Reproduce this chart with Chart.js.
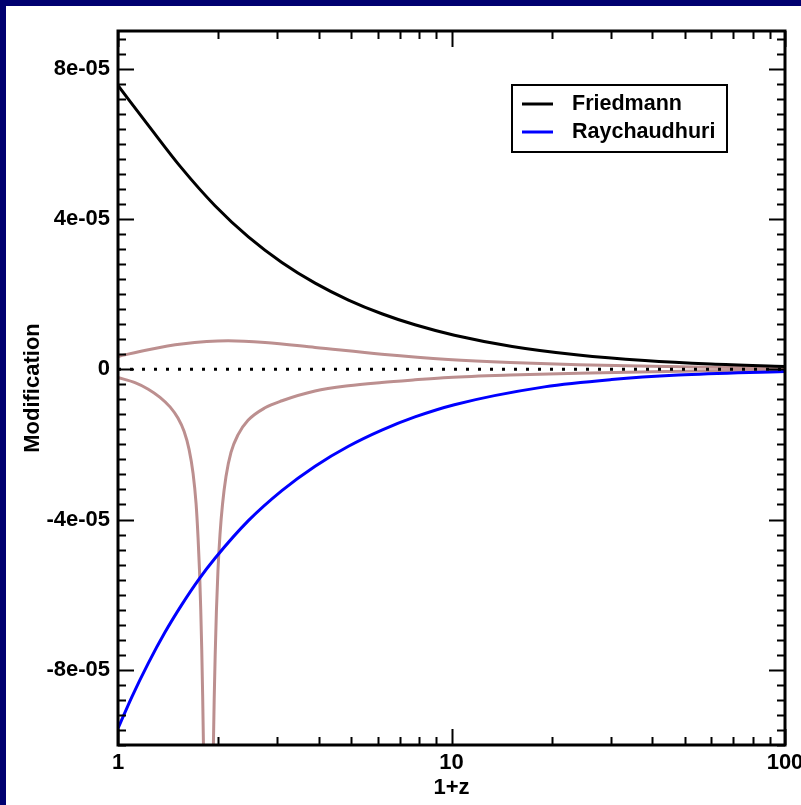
<!DOCTYPE html>
<html>
<head>
<meta charset="utf-8">
<title>Modification vs 1+z</title>
<script src="https://cdn.jsdelivr.net/npm/chart.js@4.4.1/dist/chart.umd.min.js"></script>
<style>
    html, body { margin: 0; padding: 0; background: #000070; overflow: hidden; }
    #wrap { position: absolute; left: 6px; top: 6px; width: 795px; height: 799px; background: #fff; }
</style>
</head>
<body>
<div id="wrap"><canvas id="chart"></canvas></div>
<script>
// values in units of 1e-5 at the given 1+z
const friedmannX = [1, 1.233, 1.552, 1.954, 2.46, 3.10, 3.9, 4.91, 6.18, 7.77, 10.2, 15.2, 24, 38, 60, 100];
const friedmann = [7.55, 6.49, 5.35, 4.35, 3.52, 2.84, 2.29, 1.84, 1.476, 1.182, 0.905, 0.607, 0.379, 0.231, 0.138, 0.075];

const raychX = [1, 1.099, 1.233, 1.383, 1.552, 1.741, 1.954, 2.46, 3.10, 3.9, 4.91, 6.18, 7.77, 10.2, 19, 30.2, 47.9, 100];
const raychaudhuri = [-9.56, -8.73, -7.82, -7.0, -6.27, -5.61, -5.03, -4.03, -3.23, -2.58, -2.05, -1.62, -1.27, -0.944, -0.47, -0.275, -0.157, -0.06];

const modUpperX = [1, 1.233, 1.552, 2.14, 2.76, 3.9, 6.18, 9.77, 15, 24, 40, 60, 100];
const modUpper = [0.34, 0.52, 0.67, 0.755, 0.71, 0.58, 0.40, 0.26, 0.177, 0.12, 0.077, 0.052, 0.03];

// the lower brown curve has a pole near 1+z ~ 1.86
const modLowerX = [1, 1.1244, 1.2325, 1.3365, 1.4322, 1.5126, 1.578, 1.6334, 1.6791, 1.7142, 1.738, 1.7561, 1.7706, 1.7829, 1.794, 1.8039, 1.8139,
    1.86,
    1.9213, 1.932, 1.9427, 1.9562, 1.9725, 1.9944, 2.0222, 2.0574, 2.1077, 2.1817, 2.2893, 2.454, 2.7595, 3.1025, 3.8968, 4.904, 6.1774, 7.7732, 9.7814, 15, 24, 40, 60, 100];
const modLower = [-0.221, -0.357, -0.531, -0.749, -1.003, -1.301, -1.653, -2.133, -2.773, -3.573, -4.48, -5.387, -6.4, -7.467, -8.667, -10.0, -11.47,
    null,
    -11.47, -10.0, -8.8, -7.6, -6.453, -5.333, -4.4, -3.6, -2.853, -2.213, -1.747, -1.36, -1.027, -0.84, -0.581, -0.44, -0.352, -0.283, -0.221, -0.157, -0.11, -0.068, -0.043, -0.022];

const xLabels = [1, 10, 100];
const yMajor = [-8e-5, -4e-5, 0, 4e-5, 8e-5];
const yLabels = ['-8e-05', '-4e-05', '0', '4e-05', '8e-05'];
const legendLabels = ['Friedmann', 'Raychaudhuri'];

const toPoints = (xs, ys) => xs.map((x, i) => ({ x: x, y: ys[i] === null ? null : ys[i] * 1e-5 }));

const FONT = "'Liberation Sans', Arial, sans-serif";

// minor ticks for log axis: 1..9, 10..90, 100
const xTickVals = [];
for (let d = 1; d <= 10; d *= 10) {
    for (let m = 1; m < 10; m++) xTickVals.push(m * d);
}
xTickVals.push(100);

// y ticks every 4e-6
const yTickVals = [];
for (let k = -25; k <= 22; k++) yTickVals.push(k * 4e-6);

const isMajorX = v => xLabels.some(l => Math.abs(l - v) < 1e-9);
const isMajorY = v => yMajor.some(l => Math.abs(l - v) < 1e-12);

const framePlugin = {
    id: 'frame',
    afterDatasetsDraw(chart) {
        const { ctx, chartArea: a, scales } = chart;
        ctx.save();
        ctx.strokeStyle = '#000';
        ctx.lineWidth = 2;
        xTickVals.forEach(v => {
            const px = Math.round(scales.x.getPixelForValue(v)) + 0.5;
            const len = isMajorX(v) ? 16 : 8;
            ctx.beginPath();
            ctx.moveTo(px, a.bottom); ctx.lineTo(px, a.bottom - len);
            ctx.moveTo(px, a.top); ctx.lineTo(px, a.top + len);
            ctx.stroke();
        });
        yTickVals.forEach(v => {
            const py = Math.round(scales.y.getPixelForValue(v)) + 0.5;
            const len = isMajorY(v) ? 16 : 8;
            ctx.beginPath();
            ctx.moveTo(a.left, py); ctx.lineTo(a.left + len, py);
            ctx.moveTo(a.right, py); ctx.lineTo(a.right - len, py);
            ctx.stroke();
        });
        ctx.lineWidth = 3;
        ctx.strokeRect(a.left, a.top, a.right - a.left, a.bottom - a.top);

        // legend box
        const bx = a.right - 273, by = a.top + 54, bw = 215, bh = 67;
        ctx.lineWidth = 2;
        ctx.fillStyle = '#fff';
        ctx.fillRect(bx, by, bw, bh);
        ctx.strokeRect(bx, by, bw, bh);
        ctx.font = 'bold 21.5px ' + FONT;
        ctx.textBaseline = 'middle';
        ctx.textAlign = 'left';
        legendLabels.forEach((lab, i) => {
            const ds = chart.data.datasets.find(d => d.label === lab);
            const ly = by + 19 + i * 28;
            ctx.strokeStyle = ds.borderColor;
            ctx.lineWidth = 3;
            ctx.beginPath();
            ctx.moveTo(bx + 10, ly); ctx.lineTo(bx + 41, ly);
            ctx.stroke();
            ctx.fillStyle = '#000';
            ctx.fillText(lab, bx + 60, ly);
        });
        ctx.restore();
    }
};

const lineStyle = (color) => ({
    borderColor: color,
    borderWidth: 3,
    pointRadius: 0,
    fill: false,
    cubicInterpolationMode: 'monotone'
});

new Chart(document.getElementById('chart'), {
    type: 'line',
    data: {
        datasets: [
            {
                label: 'zero',
                data: toPoints([1, 100], [0, 0]),
                borderColor: '#000',
                borderWidth: 3,
                borderDash: [3, 9],
                borderCapStyle: 'butt',
                pointRadius: 0
            },
            Object.assign({ label: 'Friedmann', data: toPoints(friedmannX, friedmann) }, lineStyle('#000000')),
            Object.assign({ label: 'Raychaudhuri', data: toPoints(raychX, raychaudhuri) }, lineStyle('#0000ff')),
            Object.assign({ label: 'mod upper', data: toPoints(modUpperX, modUpper) }, lineStyle('#bc8f8f')),
            Object.assign({ label: 'mod lower', data: toPoints(modLowerX, modLower), spanGaps: false }, lineStyle('#bc8f8f'))
        ]
    },
    options: {
        responsive: true,
        maintainAspectRatio: false,
        animation: false,
        parsing: false,
        layout: { padding: { top: 25, right: 16, left: 0, bottom: 0 } },
        plugins: {
            legend: { display: false },
            tooltip: { enabled: false }
        },
        scales: {
            x: {
                type: 'logarithmic',
                min: 1,
                max: 100,
                grid: { display: false, drawTicks: false },
                border: { display: false },
                afterBuildTicks: s => { s.ticks = xTickVals.map(v => ({ value: v })); },
                afterFit: s => { s.height = 60; s.paddingLeft = 0; s.paddingRight = 0; },
                ticks: {
                    autoSkip: false,
                    maxRotation: 0,
                    padding: 5,
                    color: '#000',
                    font: { family: FONT, size: 22, weight: 'bold' },
                    callback: v => isMajorX(v) ? String(v) : ''
                },
                title: {
                    display: true,
                    text: '1+z',
                    color: '#000',
                    font: { family: FONT, size: 22, weight: 'bold' },
                    padding: { top: 0, bottom: 4 }
                }
            },
            y: {
                type: 'linear',
                min: -1e-4,
                max: 9e-5,
                grid: { display: false, drawTicks: false },
                border: { display: false },
                afterBuildTicks: s => { s.ticks = yTickVals.map(v => ({ value: v })); },
                afterFit: s => { s.width = 112; s.paddingTop = 0; s.paddingBottom = 0; },
                ticks: {
                    autoSkip: false,
                    padding: 8,
                    color: '#000',
                    font: { family: FONT, size: 22, weight: 'bold' },
                    callback: v => {
                        const i = yMajor.findIndex(m => Math.abs(m - v) < 1e-12);
                        return i >= 0 ? yLabels[i] : '';
                    }
                },
                title: {
                    display: true,
                    text: 'Modification',
                    color: '#000',
                    font: { family: FONT, size: 22, weight: 'bold' },
                    padding: { top: 14, bottom: 0 }
                }
            }
        }
    },
    plugins: [framePlugin]
});
</script>
</body>
</html>
